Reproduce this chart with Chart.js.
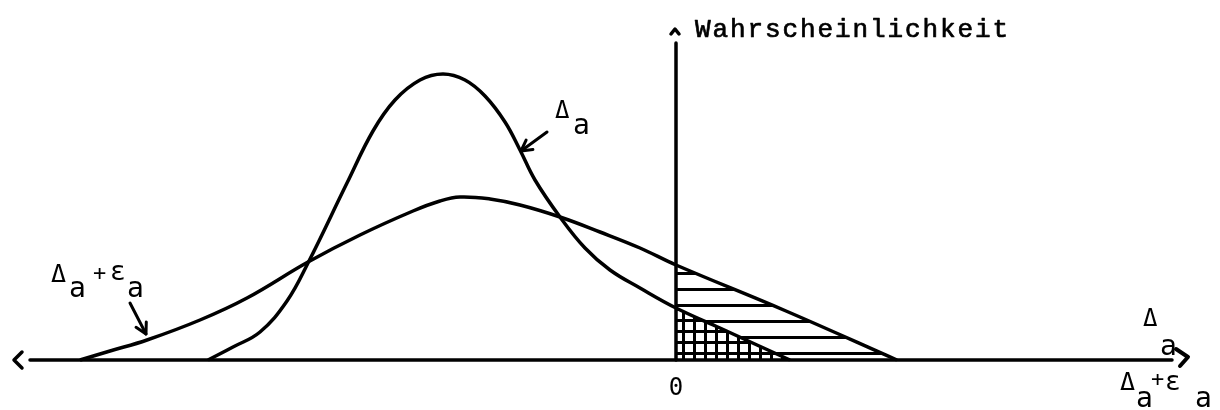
<!DOCTYPE html>
<html>
<head>
<meta charset="utf-8">
<script src="https://cdn.jsdelivr.net/npm/chart.js@4/dist/chart.umd.min.js"></script>
<style>
    body { margin: 0; background: #fff; }
    #wrap { width: 1220px; height: 410px; position: relative; }
</style>
</head>
<body>
<div id="wrap"><canvas id="chart"></canvas></div>
<script>
// Curves (x: axis units, origin at the vertical axis)
const narrowX = [-4.68, -4.43, -4.16, -3.89, -3.68, -3.29, -3.03, -2.81, -2.56, -2.33, -2.11, -1.91, -1.71, -1.56, -1.41, -1.16, -0.91, -0.66, -0.36, 0, 0.44, 0.81, 1.14];
const narrowY = [0, 0.13, 0.28, 0.59, 0.97, 1.77, 2.29, 2.60, 2.80, 2.86, 2.80, 2.64, 2.38, 2.10, 1.80, 1.43, 1.12, 0.90, 0.72, 0.52, 0.32, 0.15, 0];

const wideX = [-5.96, -5.66, -5.29, -4.76, -4.29, -3.68, -3.16, -2.63, -2.36, -2.16, -1.86, -1.56, -1.16, -0.76, -0.36, 0, 1.10, 2.21];
const wideY = [0, 0.09, 0.20, 0.40, 0.62, 0.98, 1.25, 1.49, 1.59, 1.63, 1.61, 1.55, 1.43, 1.28, 1.12, 0.95, 0.49, 0];

const xTicks = ['0'];
const yTitle = 'Wahrscheinlichkeit';

const toPoints = (xs, ys) => xs.map((x, i) => ({ x: x, y: ys[i] }));
const rightPart = (xs, ys) => toPoints(xs, ys).filter(p => p.x >= 0);

/* hatch patterns */
function hatchLines() {
    const c = document.createElement('canvas');
    c.width = 12; c.height = 16;
    const g = c.getContext('2d');
    g.fillStyle = '#000';
    g.fillRect(0, 0, 12, 3);
    return g.createPattern(c, 'repeat');
}

function hatchGrid() {
    const c = document.createElement('canvas');
    c.width = 11; c.height = 11;
    const g = c.getContext('2d');
    g.fillStyle = '#fff';
    g.fillRect(0, 0, 11, 11);
    g.fillStyle = '#000';
    g.fillRect(0, 0, 11, 3);
    g.fillRect(0, 0, 3, 11);
    return g.createPattern(c, 'repeat');
}

function line(ctx, pts) {
    ctx.beginPath();
    ctx.moveTo(pts[0][0], pts[0][1]);
    pts.slice(1).forEach(p => ctx.lineTo(p[0], p[1]));
    ctx.stroke();
}

function arrow(ctx, x1, y1, x2, y2) {
    const a = Math.atan2(y2 - y1, x2 - x1);
    line(ctx, [[x1, y1], [x2, y2]]);
    line(ctx, [
        [x2 - 12 * Math.cos(a - 0.5), y2 - 12 * Math.sin(a - 0.5)],
        [x2, y2],
        [x2 - 12 * Math.cos(a + 0.5), y2 - 12 * Math.sin(a + 0.5)]
    ]);
}

function txt(ctx, s, x, y, size) {
    ctx.font = size + 'px "DejaVu Sans Mono"';
    ctx.fillText(s, x, y);
}

const axesPlugin = {
    id: 'axes',
    afterDatasetsDraw(chart) {
        const ctx = chart.ctx;
        const xs = chart.scales.x, ys = chart.scales.y;
        const x0 = xs.getPixelForValue(0);
        const y0 = ys.getPixelForValue(0);

        ctx.save();
        ctx.strokeStyle = '#000';
        ctx.fillStyle = '#000';
        ctx.lineWidth = 3.5;
        ctx.lineCap = 'round';
        ctx.lineJoin = 'round';

        // horizontal axis with chevrons
        line(ctx, [[xs.getPixelForValue(-6.46), y0], [xs.getPixelForValue(4.96), y0]]);
        line(ctx, [[22, y0 - 8], [14, y0], [22, y0 + 8]]);
        ctx.lineWidth = 4;
        line(ctx, [[1176, y0 - 11], [1188, y0 - 3], [1180, y0 + 6]]);
        ctx.lineWidth = 3.5;

        // vertical axis with caret
        line(ctx, [[x0, y0], [x0, ys.getPixelForValue(3.17)]]);
        line(ctx, [[x0 - 5, 34], [x0 - 1, 29], [x0 + 3, 34]]);

        ctx.textBaseline = 'alphabetic';
        ctx.font = '26px "Liberation Mono"';
        ctx.letterSpacing = '1.9px';
        ctx.lineWidth = 0.7;
        ctx.fillText(yTitle, 695, 37);
        ctx.strokeText(yTitle, 695, 37);
        ctx.letterSpacing = '0px';
        ctx.lineWidth = 3;

        ctx.textAlign = 'center';
        txt(ctx, xTicks[0], x0, 395, 24);
        ctx.textAlign = 'left';

        // label of the narrow curve
        txt(ctx, 'Δ', 555, 118, 24);
        txt(ctx, 'a', 573, 134, 28);
        arrow(ctx, 547, 132, 521, 151);

        // label of the wide curve
        txt(ctx, 'Δ', 51, 282, 25);
        txt(ctx, 'a', 69, 297, 28);
        txt(ctx, '+', 93, 280, 22);
        txt(ctx, 'ε', 110, 280, 26);
        txt(ctx, 'a', 127, 297, 28);
        arrow(ctx, 130, 303, 146, 334);

        // axis labels at the right end
        txt(ctx, 'Δ', 1143, 326, 24);
        txt(ctx, 'a', 1160, 355, 28);
        txt(ctx, 'Δ', 1120, 390, 25);
        txt(ctx, 'a', 1136, 407, 28);
        txt(ctx, '+', 1151, 386, 22);
        txt(ctx, 'ε', 1165, 390, 26);
        txt(ctx, 'a', 1195, 407, 28);

        ctx.restore();
    }
};

const curveStyle = {
    showLine: true,
    borderColor: '#000',
    borderWidth: 3.5,
    pointRadius: 0,
    tension: 0.4,
    fill: false
};

new Chart(document.getElementById('chart'), {
    type: 'scatter',
    data: {
        datasets: [
            { ...curveStyle, data: toPoints(narrowX, narrowY), order: 0 },
            { ...curveStyle, data: toPoints(wideX, wideY), order: 0 },
            { ...curveStyle, data: rightPart(narrowX, narrowY), borderWidth: 0, borderColor: 'rgba(0,0,0,0)', backgroundColor: hatchGrid(), fill: 'origin', order: 1 },
            { ...curveStyle, data: rightPart(wideX, wideY), borderWidth: 0, borderColor: 'rgba(0,0,0,0)', backgroundColor: hatchLines(), fill: 'origin', order: 2 }
        ]
    },
    options: {
        responsive: true,
        maintainAspectRatio: false,
        animation: false,
        devicePixelRatio: 1,
        layout: { padding: 0 },
        plugins: { legend: { display: false }, tooltip: { enabled: false } },
        scales: {
            x: { type: 'linear', min: -6.76, max: 5.44, display: false },
            y: { type: 'linear', min: -0.5, max: 3.6, display: false }
        }
    },
    plugins: [axesPlugin]
});
</script>
</body>
</html>
